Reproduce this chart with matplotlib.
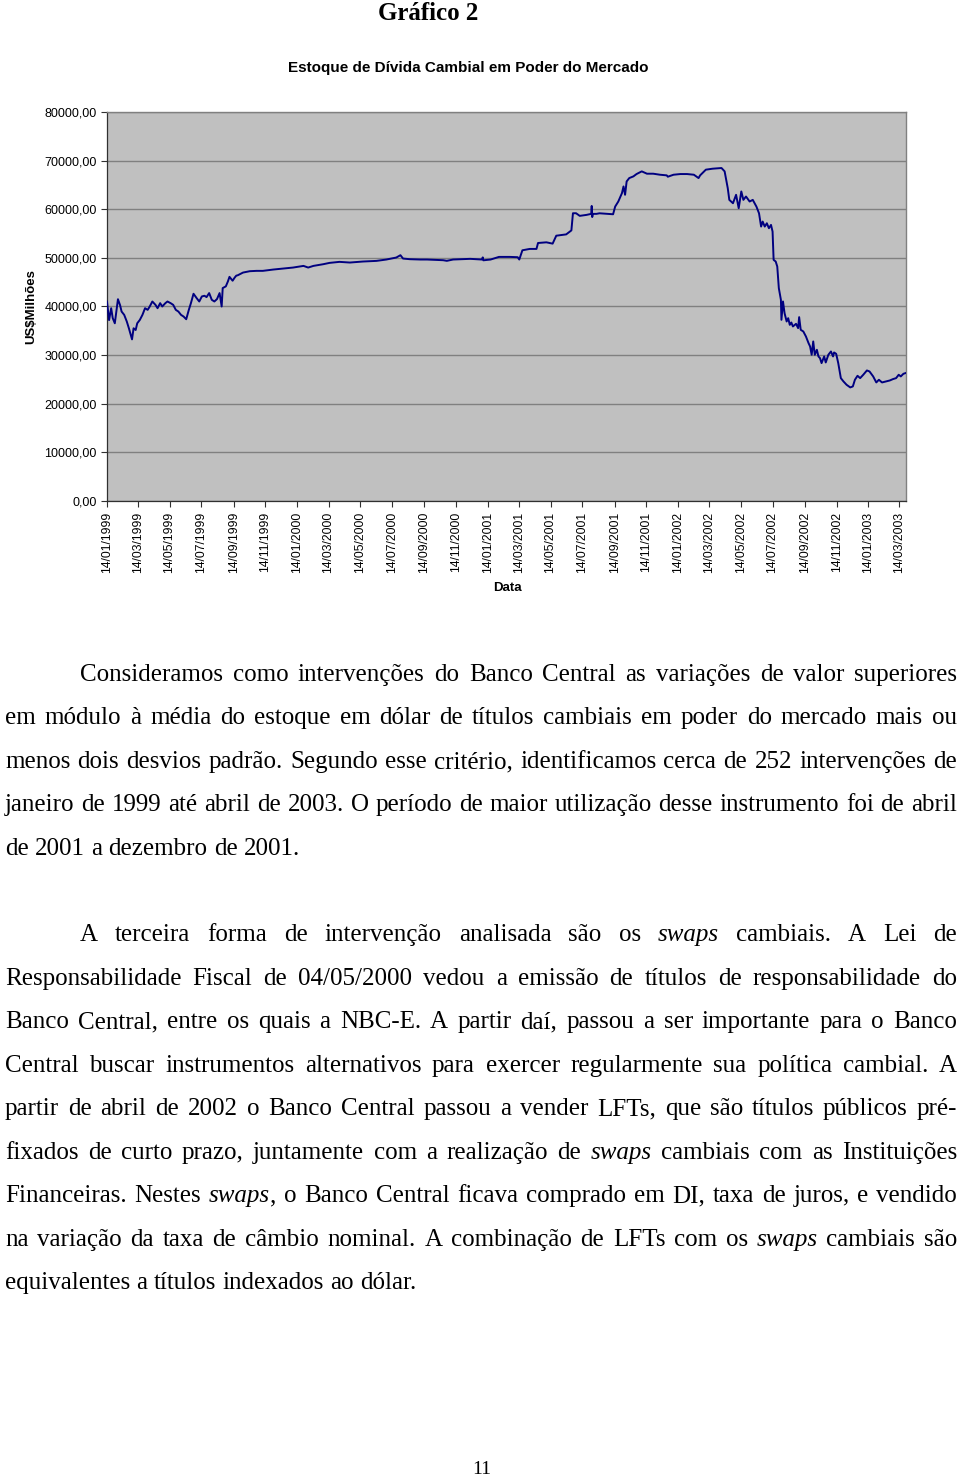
import matplotlib
matplotlib.use('Agg')
import matplotlib.pyplot as plt
import pandas as pd

# ---------------- data ----------------
DATES = [
 "1999-01-14","1999-01-18","1999-01-22","1999-01-25","1999-01-29","1999-02-04","1999-02-08","1999-02-11",
 "1999-02-16","1999-02-21","1999-02-25","1999-03-03","1999-03-06","1999-03-10","1999-03-13","1999-03-18",
 "1999-03-23","1999-03-28","1999-04-02","1999-04-06","1999-04-11","1999-04-17","1999-04-21","1999-04-26",
 "1999-04-30","1999-05-06","1999-05-10","1999-05-16","1999-05-21","1999-05-26","1999-05-31","1999-06-05",
 "1999-06-10","1999-06-15","1999-06-20","1999-06-24","1999-06-29","1999-07-05","1999-07-10","1999-07-15",
 "1999-07-20","1999-07-24","1999-07-29","1999-08-03","1999-08-08","1999-08-13","1999-08-18","1999-08-22",
 "1999-08-24","1999-08-30","1999-09-03","1999-09-06","1999-09-12","1999-09-16","1999-09-19","1999-09-22",
 "1999-10-02","1999-10-15","1999-10-28","1999-11-09","1999-11-29","1999-12-18","2000-01-06","2000-01-26",
 "2000-02-04","2000-02-14","2000-03-04","2000-03-16","2000-04-04","2000-04-24","2000-05-19","2000-06-14",
 "2000-07-03","2000-07-22","2000-07-30","2000-08-04","2000-08-17","2000-09-06","2000-09-19","2000-10-20",
 "2000-10-27","2000-11-08","2000-12-11","2001-01-02","2001-01-04","2001-01-05","2001-01-19","2001-02-04",
 "2001-02-25","2001-03-12","2001-03-15","2001-03-21","2001-04-04","2001-04-17","2001-04-20","2001-05-06",
 "2001-05-18","2001-05-25","2001-06-13","2001-06-23","2001-06-26","2001-07-02","2001-07-09","2001-07-22",
 "2001-07-31","2001-08-01","2001-08-02","2001-08-03","2001-08-10","2001-08-16","2001-08-30","2001-09-11",
 "2001-09-15","2001-09-21","2001-09-28","2001-10-01","2001-10-04","2001-10-07","2001-10-12","2001-10-20",
 "2001-10-26","2001-11-05","2001-11-15","2001-11-27","2001-12-10","2001-12-23","2001-12-25","2002-01-05",
 "2002-01-18","2002-01-31","2002-02-13","2002-02-22","2002-02-25","2002-03-08","2002-03-21","2002-04-07",
 "2002-04-13","2002-04-19","2002-04-22","2002-04-29","2002-05-05","2002-05-10","2002-05-15","2002-05-19",
 "2002-05-24","2002-05-31","2002-06-06","2002-06-13","2002-06-18","2002-06-22","2002-06-25","2002-06-29",
 "2002-07-03","2002-07-07","2002-07-11","2002-07-14","2002-07-16","2002-07-20","2002-07-23","2002-07-26",
 "2002-07-30","2002-07-31","2002-08-03","2002-08-06","2002-08-10","2002-08-13","2002-08-16","2002-08-19",
 "2002-08-22","2002-08-28","2002-09-01","2002-09-03","2002-09-06","2002-09-11","2002-09-16","2002-09-21",
 "2002-09-24","2002-09-27","2002-09-30","2002-10-03","2002-10-07","2002-10-10","2002-10-13","2002-10-16",
 "2002-10-21","2002-10-24","2002-10-29","2002-11-03","2002-11-07","2002-11-09","2002-11-13","2002-11-17",
 "2002-11-22","2002-11-27","2002-12-03","2002-12-10","2002-12-15","2002-12-19","2002-12-24","2002-12-29",
 "2003-01-04","2003-01-11","2003-01-16","2003-01-23","2003-01-29","2003-02-03","2003-02-09","2003-02-17",
 "2003-02-24","2003-03-02","2003-03-08","2003-03-13","2003-03-17","2003-03-22","2003-03-26",
]
STOCK = [
 41000,37200,39650,37600,36550,41500,40300,38960,
 38280,36900,35520,33240,35520,35170,36550,37240,
 38280,39650,39310,40000,41030,40340,39650,40690,
 40000,40690,41030,40690,40340,39310,38960,38280,
 37930,37380,39310,40690,42620,41720,41030,42070,
 42210,41930,42760,41380,41030,41520,42760,40000,
 43790,44140,45170,46100,45300,45950,46340,46430,
 46980,47260,47330,47330,47600,47800,48010,48350,
 48010,48350,48700,48970,49180,49040,49250,49380,
 49660,50070,50550,49860,49730,49660,49660,49520,
 49390,49660,49800,49660,50100,49500,49660,50200,
 50200,50140,49660,51560,51840,51840,53060,53200,
 52930,54560,54830,55650,59180,59180,58640,58840,
 59050,60680,58400,59050,59050,59170,59050,58970,
 60550,61590,63310,64690,62970,65720,66410,66760,
 67240,67790,67310,67310,67100,66970,66690,67100,
 67240,67240,67100,66410,66970,68140,68340,68480,
 67790,64340,61930,61240,62970,60210,63660,61930,
 62620,61590,61930,60550,59170,56440,57470,56440,
 57120,56100,56780,55410,49590,49250,48220,43770,
 41370,37260,41030,38630,36920,37600,36230,36710,
 35890,36440,35550,37810,35210,34860,33840,32470,
 31780,30070,32810,30070,31100,29730,29380,28360,
 29730,28490,30070,30750,29730,30550,30270,28360,
 25270,24590,23900,23360,23560,24930,25750,25270,
 25960,26850,26640,25620,24380,24930,24380,24590,
 24790,25070,25270,25960,25620,26160,26300,
]
X_TICK_LABELS = [
 "14/01/1999","14/03/1999","14/05/1999","14/07/1999","14/09/1999","14/11/1999",
 "14/01/2000","14/03/2000","14/05/2000","14/07/2000","14/09/2000","14/11/2000",
 "14/01/2001","14/03/2001","14/05/2001","14/07/2001","14/09/2001","14/11/2001",
 "14/01/2002","14/03/2002","14/05/2002","14/07/2002","14/09/2002","14/11/2002",
 "14/01/2003","14/03/2003",
]
Y_TICKS = [0, 10000, 20000, 30000, 40000, 50000, 60000, 70000, 80000]

PAGE_TITLE = "Gráfico 2"
CHART_TITLE = "Estoque de Dívida Cambial em Poder do Mercado"
X_LABEL = "Data"
Y_LABEL = "US$Milhões"
PAGE_NUMBER = "11"

PARAGRAPH_1 = [
 "Consideramos como intervenções do Banco Central as variações de valor superiores",
 "em módulo à média do estoque em dólar de títulos cambiais em poder do mercado mais ou",
 "menos dois desvios padrão. Segundo esse critério, identificamos cerca de 252 intervenções de",
 "janeiro de 1999 até abril de 2003. O período de maior utilização desse instrumento foi de abril",
 "de 2001 a dezembro de 2001.",
]
PARAGRAPH_2 = [
 "A terceira forma de intervenção analisada são os *swaps* cambiais. A Lei de",
 "Responsabilidade Fiscal de 04/05/2000 vedou a emissão de títulos de responsabilidade do",
 "Banco Central, entre os quais a NBC-E. A partir daí, passou a ser importante para o Banco",
 "Central buscar instrumentos alternativos para exercer regularmente sua política cambial. A",
 "partir de abril de 2002 o Banco Central passou a vender LFTs, que são títulos públicos pré-",
 "fixados de curto prazo, juntamente com a realização de *swaps* cambiais com as Instituições",
 "Financeiras. Nestes *swaps*, o Banco Central ficava comprado em DI, taxa de juros, e vendido",
 "na variação da taxa de câmbio nominal. A combinação de LFTs com os *swaps* cambiais são",
 "equivalentes a títulos indexados ao dólar.",
]

# ---------------- figure ----------------
W, H = 960, 1476
fig = plt.figure(figsize=(W / 100, H / 100), dpi=100)
fig.patch.set_facecolor('white')

def fx(px):
    return px / W

def fy(py):
    return 1 - py / H

SANS = 'Liberation Sans'
SERIF = 'Liberation Serif'

ax = fig.add_axes([fx(107), fy(501), (906 - 107) / W, (501 - 112) / H])
ax.set_facecolor('#c0c0c0')

dates = pd.to_datetime(DATES)
ax.plot(dates.to_pydatetime(), STOCK, color='#000080', lw=1.4, zorder=3)

ax.set_ylim(0, 80000)
ax.set_yticks(Y_TICKS)
ax.set_yticklabels([f"{v},00" for v in Y_TICKS], fontsize=9, family=SANS)

xt = pd.to_datetime(X_TICK_LABELS, format="%d/%m/%Y")
ax.set_xlim(pd.Timestamp("1999-01-14").to_pydatetime(), pd.Timestamp("2003-03-27").to_pydatetime())
ax.set_xticks(xt.to_pydatetime())
ax.set_xticklabels(X_TICK_LABELS, rotation=90, fontsize=8.7, family=SANS)

ax.grid(axis='y', color='#808080', lw=1.0, zorder=1)
ax.grid(axis='x', visible=False)
ax.set_axisbelow(True)
ax.tick_params(axis='both', direction='out', length=4, width=0.8, color='#303030', pad=3.5)

for side in ['top', 'right']:
    ax.spines[side].set_color('#808080')
    ax.spines[side].set_linewidth(1.0)
for side in ['left', 'bottom']:
    ax.spines[side].set_color('#303030')
    ax.spines[side].set_linewidth(0.9)

# chart texts
fig.text(fx(428), fy(13), PAGE_TITLE, family=SERIF, fontsize=18, fontweight='bold',
         ha='center', va='center')
fig.text(fx(468), fy(68), CHART_TITLE, family=SANS, fontsize=11, fontweight='bold',
         ha='center', va='center')
fig.text(fx(507), fy(588), X_LABEL, family=SANS, fontsize=9.5, fontweight='bold',
         ha='center', va='center')
fig.text(fx(31), fy(307), Y_LABEL, family=SANS, fontsize=9.5, fontweight='bold',
         ha='center', va='center', rotation=90)

# ---------------- body text (justified) ----------------
renderer = fig.canvas.get_renderer()
LEFT, RIGHT, INDENT = 5, 957, 80


def make_word(word, size):
    arts = []
    for i, piece in enumerate(word.split('*')):
        if not piece:
            continue
        t = fig.text(0, 0, piece, family=SERIF, fontsize=size,
                     style='italic' if i % 2 else 'normal',
                     ha='left', va='baseline', color='black')
        arts.append(t)
    return arts


def word_width(arts):
    return sum(a.get_window_extent(renderer).width for a in arts)


def natural_ratio(line, x0, size):
    words = line.split(' ')
    ws = []
    for w in words:
        arts = make_word(w, size)
        ws.append(word_width(arts))
        for a in arts:
            a.remove()
    space = 0.25 * size * 100 / 72
    return (sum(ws) + space * (len(words) - 1)) / (RIGHT - x0)


size = 18.0
ratios = []
for para in (PARAGRAPH_1, PARAGRAPH_2):
    for i, line in enumerate(para[:-1]):
        ratios.append(natural_ratio(line, INDENT if i == 0 else LEFT, size))
worst = max(ratios)
if worst > 0.995:
    size = size * 0.995 / worst


def draw_line(line, x0, base, justify):
    words = line.split(' ')
    groups = [make_word(w, size) for w in words]
    widths = [word_width(g) for g in groups]
    space = 0.25 * size * 100 / 72
    if justify and len(words) > 1:
        gap = (RIGHT - x0 - sum(widths)) / (len(words) - 1)
    else:
        gap = space
    x = x0
    for g, w in zip(groups, widths):
        xx = x
        for a in g:
            a.set_position((fx(xx), fy(base)))
            xx += a.get_window_extent(renderer).width
        x += w + gap


P1_BASE = [681, 724, 768, 811, 855]
P2_BASE = [941, 985, 1028, 1072, 1115, 1159, 1202, 1246, 1289]
for para, bases in ((PARAGRAPH_1, P1_BASE), (PARAGRAPH_2, P2_BASE)):
    n = len(para)
    for i, (line, b) in enumerate(zip(para, bases)):
        draw_line(line, INDENT if i == 0 else LEFT, b, justify=(i < n - 1))

fig.text(fx(482), fy(1474), PAGE_NUMBER, family=SERIF, fontsize=14,
         ha='center', va='baseline')

fig.savefig('out.png', dpi=100, facecolor='white')
